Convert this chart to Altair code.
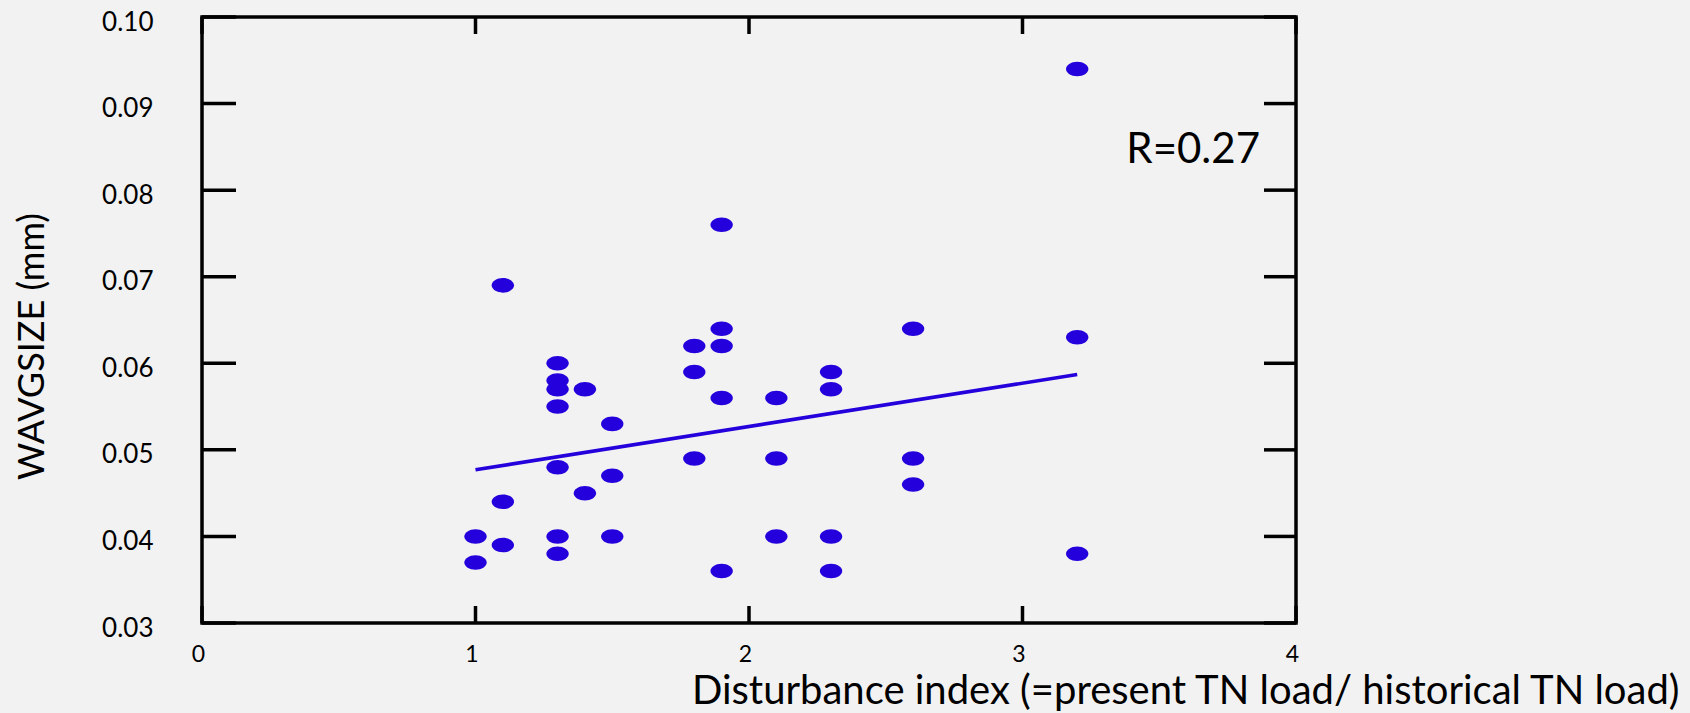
import altair as alt
import pandas as pd

# ---- data ----
disturbance = [1.0, 1.0, 1.1, 1.1, 1.1,
               1.3, 1.3, 1.3, 1.3, 1.3, 1.3, 1.3,
               1.4, 1.4,
               1.5, 1.5, 1.5,
               1.8, 1.8, 1.8,
               1.9, 1.9, 1.9, 1.9, 1.9,
               2.1, 2.1, 2.1,
               2.3, 2.3, 2.3, 2.3,
               2.6, 2.6, 2.6,
               3.2, 3.2, 3.2]
wavgsize = [0.040, 0.037, 0.069, 0.044, 0.039,
            0.060, 0.058, 0.057, 0.055, 0.048, 0.040, 0.038,
            0.057, 0.045,
            0.053, 0.047, 0.040,
            0.062, 0.059, 0.049,
            0.076, 0.064, 0.062, 0.056, 0.036,
            0.056, 0.049, 0.040,
            0.059, 0.057, 0.040, 0.036,
            0.064, 0.049, 0.046,
            0.094, 0.063, 0.038]
fit_x = [1.0, 3.2]
fit_y = [0.0477, 0.0587]
x_ticks = [0, 1, 2, 3, 4]
y_ticks = [0.03, 0.04, 0.05, 0.06, 0.07, 0.08, 0.09, 0.10]
r_label = ["R=0.27"]
stray_label = ["0.10"]

pts = pd.DataFrame({"x": disturbance, "y": wavgsize})
fit = pd.DataFrame({"x": fit_x, "y": fit_y})
xt = pd.DataFrame({"x": x_ticks})
yt = pd.DataFrame({"y": y_ticks})

W, H = 1094, 606
FONT = "Lato"
BLUE = "#2300DC"
LW = 3.5
ELLIPSE = ("M -1 0 C -1 -0.359 -0.5523 -0.65 0 -0.65 C 0.5523 -0.65 1 -0.359 1 0 "
           "C 1 0.359 0.5523 0.65 0 0.65 C -0.5523 0.65 -1 0.359 -1 0 Z")

xscale = alt.Scale(domain=[0, 4], nice=False, zero=False)
yscale = alt.Scale(domain=[0.03, 0.10], nice=False, zero=False)

XTITLE = "Disturbance index (=present TN load/ historical TN load)"
YTITLE = "WAVGSIZE (mm)"

xaxis = alt.Axis(values=x_ticks, format="d", ticks=False, tickSize=0, domain=False, grid=False,
                 labelFont=FONT, labelFontSize=23, labelPadding=20, labelOffset=-4,
                 labelColor="black", labelFlush=False, labelOverlap=False,
                 title=XTITLE,
                 titleFont=FONT, titleFontSize=40, titleFontWeight="normal", titleColor="black",
                 titleX=1477, titleY=80, titleAlign="right", titleBaseline="alphabetic")
yaxis = alt.Axis(values=y_ticks, format=".2f", ticks=False, tickSize=0, domain=False, grid=False,
                 labelFont=FONT, labelFontSize=26, labelPadding=49, labelOffset=5,
                 labelColor="black", labelFlush=False, labelOverlap=False,
                 title=YTITLE, titleFont=FONT, titleFontSize=36,
                 titleFontWeight="normal", titleColor="black",
                 titleX=-170, titleY=329, titleAngle=270, titleAlign="center",
                 titleBaseline="middle")

X = lambda: alt.X("x:Q", scale=xscale, axis=xaxis, title=XTITLE)
Y = lambda: alt.Y("y:Q", scale=yscale, axis=yaxis, title=YTITLE)

points = alt.Chart(pts).mark_point(filled=True, shape=ELLIPSE, size=500, color=BLUE,
                                   opacity=1, strokeWidth=0).encode(x=X(), y=Y())

line = alt.Chart(fit).mark_line(color=BLUE, strokeWidth=3.6).encode(x=X(), y=Y())

left_ticks = alt.Chart(yt).mark_rule(color="black", strokeWidth=LW).encode(
    y=Y(), x=alt.value(0), x2=alt.value(34))
right_ticks = alt.Chart(yt).mark_rule(color="black", strokeWidth=LW).encode(
    y=Y(), x=alt.value(W - 32), x2=alt.value(W))
bottom_ticks = alt.Chart(xt).mark_rule(color="black", strokeWidth=LW).encode(
    x=X(), y=alt.value(H - 17), y2=alt.value(H))
top_ticks = alt.Chart(xt).mark_rule(color="black", strokeWidth=LW).encode(
    x=X(), y=alt.value(0), y2=alt.value(17))

r_text = alt.Chart(pd.DataFrame({"t": r_label})).mark_text(
    font=FONT, fontSize=42, align="right", baseline="alphabetic", color="black").encode(
    text="t:N", x=alt.value(1058), y=alt.value(146))

stray = alt.Chart(pd.DataFrame({"t": stray_label})).mark_text(
    font=FONT, fontSize=26, align="right", baseline="top", color="black").encode(
    text="t:N", x=alt.value(-49), y=alt.value(695))

chart = alt.layer(
    points, line, left_ticks, right_ticks, bottom_ticks, top_ticks, r_text, stray
).properties(
    width=W, height=H,
    padding={"left": 202, "top": 17, "right": 394, "bottom": 90},
    autosize=alt.AutoSizeParams(type="none"),
    background="#F2F2F2",
).configure_view(stroke="black", strokeWidth=LW, fill="#F2F2F2")

chart.save("out.html", embed_options={"renderer": "svg", "actions": False})
